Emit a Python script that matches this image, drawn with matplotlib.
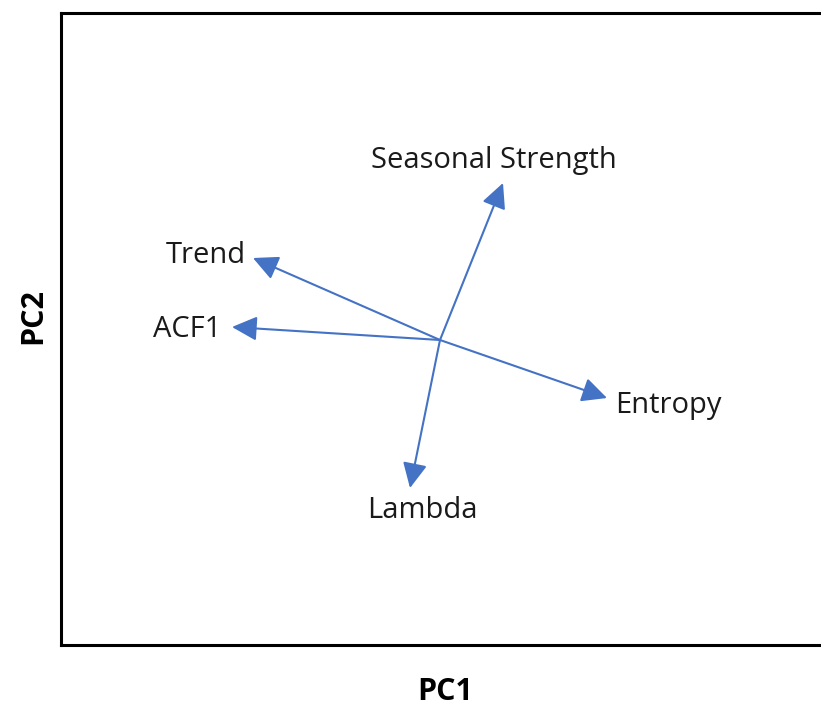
import matplotlib.pyplot as plt

# PCA loadings (arbitrary units)
features = ["Seasonal Strength", "Trend", "ACF1", "Entropy", "Lambda"]
pc1 = [0.63, -1.87, -2.08, 1.67, -0.30]
pc2 = [1.57, 0.82, 0.13, -0.58, -1.48]

# where each label sits
label_x = [0.54, -2.34, -2.53, 2.28, -0.18]
label_y = [1.80, 0.85, 0.11, -0.65, -1.70]

blue = "#4472C4"

fig = plt.figure(figsize=(8.21, 7.11), dpi=100)
ax = fig.add_axes([61 / 821, 66 / 711, 1 - 61 / 821, 632 / 711])
ax.set_xlim(-3.79, 3.81)
ax.set_ylim(-3.05, 3.27)

for x, y in zip(pc1, pc2):
    ax.annotate("", xy=(x, y), xytext=(0, 0),
                arrowprops=dict(arrowstyle="-|>,head_length=0.45,head_width=0.22",
                                color=blue, lw=1.5,
                                mutation_scale=34, shrinkA=0, shrinkB=0))

for name, x, y in zip(features, label_x, label_y):
    ax.text(x, y, name, ha="center", va="center", fontsize=21,
            family="Open Sans", color="#1a1a1a")

ax.set_xticks([])
ax.set_yticks([])
ax.spines["right"].set_visible(False)
for s in ["left", "top", "bottom"]:
    ax.spines[s].set_linewidth(2.2)

fig.text(445 / 821, 1 - 692 / 711, "PC1", ha="center", va="center",
         fontsize=22, fontweight="bold", family="Open Sans")
fig.text(33 / 821, 1 - 316 / 711, "PC2", ha="center", va="center",
         fontsize=22, fontweight="bold", family="Open Sans", rotation=90)

fig.savefig("out.png", dpi=100)
